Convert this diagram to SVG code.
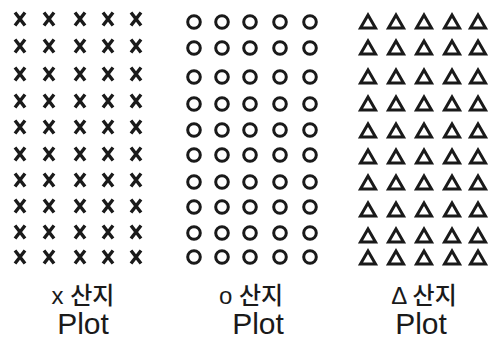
<svg xmlns="http://www.w3.org/2000/svg" xmlns:xlink="http://www.w3.org/1999/xlink" width="496" height="342" viewBox="0 0 496 342">
<style>
.m{fill:none;stroke:#1a1a1a;stroke-width:3;stroke-linejoin:miter}
.xm{fill:none;stroke:#1a1a1a;stroke-width:3.4}
.lbl{font-family:"Liberation Sans","Noto Sans CJK KR",sans-serif;fill:#1a1a1a;text-anchor:middle}
.kr{font-size:24px;font-weight:500}
.pl{font-size:30px}
</style>
<defs>
<path id="x" class="xm" d="M-5,-6.5 L5,6.5 M5,-6.5 L-5,6.5"/>
<circle id="o" class="m" r="6.3"/>
<path id="t" class="m" d="M0,-7 L7.5,6 L-7.5,6 Z"/>
<g id="xr"><use xlink:href="#x" x="20"/><use xlink:href="#x" x="49"/><use xlink:href="#x" x="80"/><use xlink:href="#x" x="108"/><use xlink:href="#x" x="136"/></g>
<g id="or"><use xlink:href="#o" x="194"/><use xlink:href="#o" x="222"/><use xlink:href="#o" x="250"/><use xlink:href="#o" x="280"/><use xlink:href="#o" x="310"/></g>
<g id="tr"><use xlink:href="#t" x="368"/><use xlink:href="#t" x="396"/><use xlink:href="#t" x="424"/><use xlink:href="#t" x="452"/><use xlink:href="#t" x="478"/></g>
</defs>
<rect width="496" height="342" fill="#fff"/>
<g id="plot-x">
<use xlink:href="#xr" y="19"/><use xlink:href="#xr" y="46"/><use xlink:href="#xr" y="74"/><use xlink:href="#xr" y="101"/><use xlink:href="#xr" y="127"/>
<use xlink:href="#xr" y="154"/><use xlink:href="#xr" y="180"/><use xlink:href="#xr" y="206"/><use xlink:href="#xr" y="232"/><use xlink:href="#xr" y="257"/>
<text class="lbl kr" x="83" y="304">x 산지</text>
<text class="lbl pl" x="83" y="334">Plot</text>
</g>
<g id="plot-o">
<use xlink:href="#or" y="22"/><use xlink:href="#or" y="48"/><use xlink:href="#or" y="77"/><use xlink:href="#or" y="104"/><use xlink:href="#or" y="130"/>
<use xlink:href="#or" y="155"/><use xlink:href="#or" y="182"/><use xlink:href="#or" y="207"/><use xlink:href="#or" y="233"/><use xlink:href="#or" y="257"/>
<text class="lbl kr" x="251" y="304">o 산지</text>
<text class="lbl pl" x="258" y="334">Plot</text>
</g>
<g id="plot-t">
<use xlink:href="#tr" y="22"/><use xlink:href="#tr" y="48"/><use xlink:href="#tr" y="77"/><use xlink:href="#tr" y="104"/><use xlink:href="#tr" y="131"/>
<use xlink:href="#tr" y="157"/><use xlink:href="#tr" y="183"/><use xlink:href="#tr" y="210"/><use xlink:href="#tr" y="236"/><use xlink:href="#tr" y="258"/>
<text class="lbl kr" x="424" y="304">Δ 산지</text>
<text class="lbl pl" x="421" y="334">Plot</text>
</g>
</svg>
